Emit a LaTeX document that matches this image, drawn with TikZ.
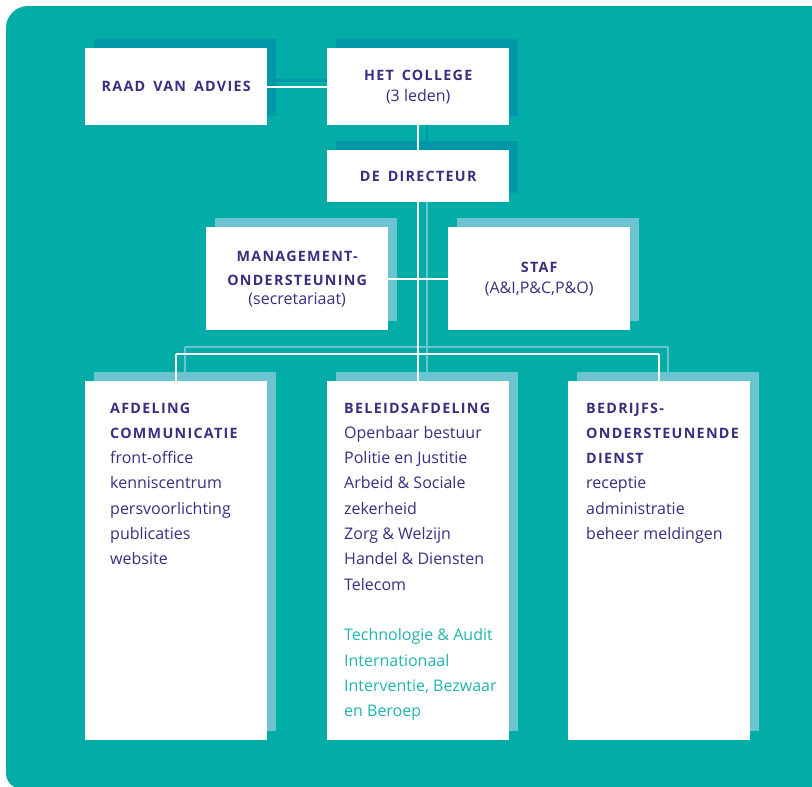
\documentclass[tikz,border=0pt]{standalone}
\usepackage{fontspec}
\setmainfont{Open Sans}
\newfontfamily\capsfont[LetterSpace=9,WordSpace=1.6]{Open Sans}
\usetikzlibrary{shadows,positioning,backgrounds}

\definecolor{bgteal}{HTML}{02ADA7}
\definecolor{darkshade}{HTML}{0098A8}
\definecolor{lightshade}{HTML}{6CC4D1}
\definecolor{ink}{HTML}{3A2E80}
\definecolor{inklight}{HTML}{22B5AF}

\newcommand\caps[1]{{\capsfont\bfseries\fontsize{14.3}{17}\selectfont #1}}
\newcommand\unitlist[1]{\vtop{\hsize=175pt\parindent=0pt\raggedright
  \fontsize{16}{25.3}\selectfont #1}}

\begin{document}
\begin{tikzpicture}[x=1pt,y=-1pt,
    box/.style={fill=white,inner sep=0pt,minimum width=182pt,anchor=north west,
      text=ink,align=center,font=\fontsize{16}{24}\selectfont},
    darkbox/.style={box,drop shadow={shadow xshift=9pt,shadow yshift=9pt,opacity=1,fill=darkshade}},
    lightbox/.style={box,drop shadow={shadow xshift=9pt,shadow yshift=9pt,opacity=1,fill=lightshade}},
    lift/.style={xshift=9pt,yshift=9pt},
    link/.style={draw=white,line width=2pt},
    darklink/.style={draw=darkshade,line width=2.5pt},
    lightlink/.style={draw=lightshade,line width=2.5pt}]
    \useasboundingbox (0,0) rectangle (812,787);
    \begin{pgfonlayer}{background}
    \fill[bgteal] (840,6) [rounded corners=22pt] -- (6,6) [rounded corners=16pt] -- (6,789)
        [sharp corners] -- (840,789) -- cycle;
    \end{pgfonlayer}

    % top of the organisation
    \node[darkbox,minimum height=77pt] (raad) at (85,48) {\caps{RAAD VAN ADVIES}};
    \node[darkbox,minimum height=77pt] (college) at (327,48)
        {\caps{HET COLLEGE}\\[-3pt](3 leden)};
    \node[darkbox,minimum height=52pt] (directeur) at (327,150) {\caps{DE DIRECTEUR}};
    \node[lightbox,minimum height=103pt] (mo) at (206,227)
        {\caps{MANAGEMENT-}\\\caps{ONDERSTEUNING}\\[-5pt](secretariaat)};
    \node[lightbox,minimum height=103pt] (staf) at (448,227)
        {\caps{STAF}\\[-3pt](A\&I,P\&C,P\&O)};

    % the three units
    \node[lightbox,minimum height=359pt] (comm) at (85,381) {};
    \node[lightbox,minimum height=359pt] (beleid) at (327,381) {};
    \node[lightbox,minimum height=359pt] (dienst) at (568,381) {};

    \node[anchor=base west,inner sep=0pt,text=ink] (commtxt) at ([xshift=25pt]comm.west |- 0,413)
        {\unitlist{\caps{AFDELING}\par\caps{COMMUNICATIE}\par front-office\par
          kenniscentrum\par persvoorlichting\par publicaties\par website}};
    \node[anchor=base west,inner sep=0pt,text=ink] (beleidtxt) at ([xshift=17pt]beleid.west |- 0,413)
        {\unitlist{\caps{BELEIDSAFDELING}\par Openbaar bestuur\par Politie en Justitie\par
          Arbeid \& Sociale\par zekerheid\par Zorg \& Welzijn\par Handel \& Diensten\par
          Telecom\par\vskip25.3pt
          \color{inklight}Technologie \& Audit\par Internationaal\par
          Interventie, Bezwaar\par en Beroep}};
    \node[anchor=base west,inner sep=0pt,text=ink] (diensttxt) at ([xshift=18pt]dienst.west |- 0,413)
        {\unitlist{\caps{BEDRIJFS-}\par\caps{ONDERSTEUNENDE}\par\caps{DIENST}\par
          receptie\par administratie\par beheer meldingen}};

    \coordinate (bus) at ([yshift=27pt]beleid.north);
    \coordinate (busL) at (comm.north |- bus);
    \coordinate (busR) at (dienst.north |- bus);

    % shadow lines, kept behind the boxes
    \begin{pgfonlayer}{background}
    \draw[darklink] ([xshift=9pt,yshift=6pt]raad.east) -- ([xshift=9pt,yshift=6pt]college.west);
    \draw[darklink] ([lift]college.south) -- ([lift]directeur.north);
    \draw[lightlink] ([lift]directeur.south) -- ([xshift=9pt,yshift=7pt]bus);
    \draw[lightlink] ([xshift=9pt,yshift=7pt]busL) -- ([xshift=9pt,yshift=7pt]busR);
    \draw[lightlink] ([xshift=9pt,yshift=7pt]busL) -- ([lift]comm.north);
    \draw[lightlink] ([xshift=9pt,yshift=7pt]bus) -- ([lift]beleid.north);
    \draw[lightlink] ([xshift=9pt,yshift=7pt]busR) -- ([lift]dienst.north);
    \end{pgfonlayer}

    % connectors
    \draw[link] (raad) -- (college);
    \draw[link] (college) -- (directeur);
    \draw[link] (directeur.south) -- (bus);
    \draw[link] (mo) -- (staf);
    \draw[link] (busL) -- (busR);
    \draw[link] (busL) -- (comm.north);
    \draw[link] (bus) -- (beleid.north);
    \draw[link] (busR) -- (dienst.north);
\end{tikzpicture}
\end{document}
